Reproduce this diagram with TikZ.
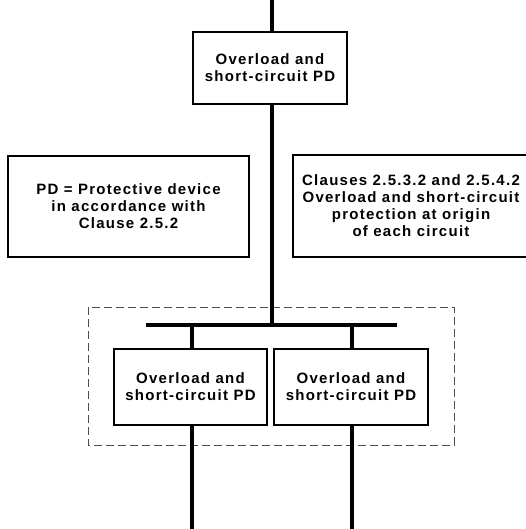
\documentclass[tikz,border=0pt]{standalone}
\usepackage{fontspec}
\setmainfont{Liberation Sans}[BoldFont={Liberation Sans Bold}]
\newfontfamily\diafont{Liberation Sans Bold}[LetterSpace=8.5]
\begin{document}
\begin{tikzpicture}[x=1pt,y=-1pt,
  pdbox/.style={draw=black,line width=1.6pt,inner sep=0pt,align=center,
    font=\diafont\fontsize{15pt}{17pt}\selectfont},
  wire/.style={line width=4pt},
  dashbox/.style={draw=black!70,line width=0.9pt,dash pattern=on 8pt off 4pt}]
\useasboundingbox (0,0) rectangle (526,529);
\node[pdbox,minimum width=154pt,minimum height=72pt] (top) at (270,68) {Overload and\\short-circuit PD};
\node[pdbox,minimum width=241pt,minimum height=101pt] (note) at (128.5,206.5) {PD = Protective device\\in accordance with\\Clause 2.5.2};
\node[pdbox,minimum width=236pt,minimum height=102pt] (clause) at (411,206) {Clauses 2.5.3.2 and 2.5.4.2\\Overload and short-circuit\\protection at origin\\of each circuit};
\node[pdbox,minimum width=153pt,minimum height=76pt] (bl) at (190.5,387) {Overload and\\short-circuit PD};
\node[pdbox,minimum width=154pt,minimum height=76pt] (br) at (351,387) {Overload and\\short-circuit PD};
\draw[dashbox] (88,307) rectangle (454,445);
\coordinate (in) at (272,0);
\coordinate (busL) at (146,325);
\coordinate (busR) at (397,325);
\coordinate (bus) at (272,325);
\coordinate (b1) at (192,325);
\coordinate (b2) at (352,325);
\coordinate (o1) at (192,529);
\coordinate (o2) at (352,529);
\draw[wire] (in) -- (in |- top.north);
\draw[wire] (bus |- top.south) -- (bus);
\draw[wire] (busL) -- (busR);
\draw[wire] (b1) -- (b1 |- bl.north);
\draw[wire] (b2) -- (b2 |- br.north);
\draw[wire] (b1 |- bl.south) -- (o1);
\draw[wire] (b2 |- br.south) -- (o2);
\end{tikzpicture}
\end{document}
